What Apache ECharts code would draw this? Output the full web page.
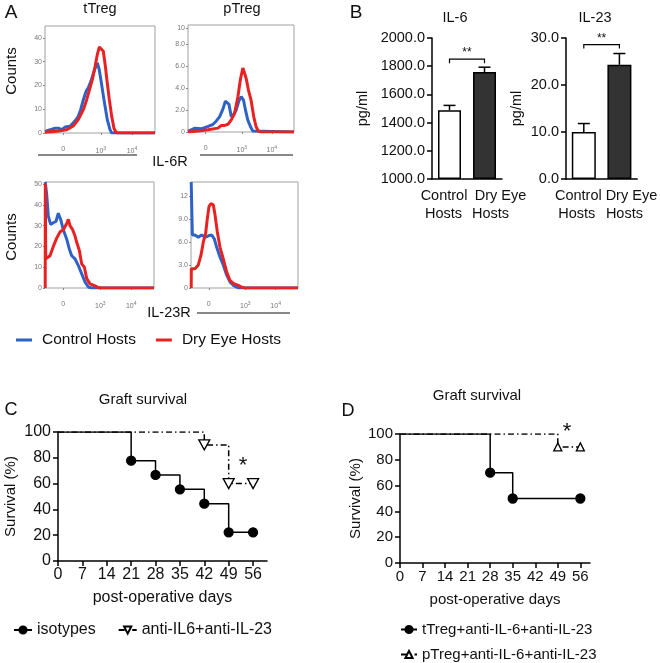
<!DOCTYPE html>
<html><head><meta charset="utf-8">
<script src="https://cdn.jsdelivr.net/npm/echarts@6/dist/echarts.min.js"></script>
<style>html,body{margin:0;padding:0;background:#fff}#c{width:660px;height:663px}</style>
</head><body><div id="c"></div>
<script>
// ---------- DATA ----------
// Flow histograms: x = display channel (0-1024, biexponential display), y = counts
const histXTicks = [170, 520, 810];
const histXTickLabels = ['0', '10{s|3}', '10{s|4}'];
const seriesNames = ['Control Hosts', 'Dry Eye Hosts'];

const il6rTregCtrl = [[0,0.7],[93,2],[124,2],[155,1.4],[186,2.5],[233,2.8],[279,5],[310,7],[332,9.8],[357,14],[382,17.5],[403,19],[428,21.8],[450,25],[472,28],[487,29.5],[503,27],[518,23],[537,17.5],[559,11.2],[580,5.6],[605,1.4],[621,0],[1024,0]];
const il6rTregDry  = [[0,0.3],[109,0.7],[202,1.4],[264,3],[310,5.6],[357,9.8],[388,14],[419,19],[444,23],[466,28],[487,33],[506,36.2],[524,36.8],[543,34.4],[562,28],[580,21],[599,14],[621,7],[642,2],[661,0.3],[680,0],[1024,0]];
const il6rPregCtrl = [[0,0.05],[67,0.35],[131,0.3],[195,0.5],[242,0.7],[274,1.0],[306,1.4],[338,2.1],[361,2.8],[380,2.9],[396,2.5],[418,1.4],[443,1.6],[466,2.0],[491,2.8],[514,3.2],[536,2.9],[555,2.0],[577,1.1],[603,0.5],[625,0.1],[641,0],[1024,0]];
const il6rPregDry  = [[0,0],[99,0.1],[195,0.2],[290,0.35],[322,0.6],[354,0.6],[386,0.7],[418,1.1],[450,1.7],[482,3.2],[507,4.8],[530,5.8],[545,5.7],[561,4.9],[584,3.8],[609,2.9],[635,1.4],[657,0.5],[679,0.1],[700,0],[1024,0]];
const il23rTregCtrl = [[2,51],[16,45],[31,34.6],[53,30.6],[78,31.4],[103,32],[125,36],[147,33],[172,28],[204,23.5],[229,18.7],[251,15.5],[282,14],[313,10.8],[345,6.8],[376,2.9],[407,0.5],[439,0],[1024,0]];
const il23rTregDry  = [[2,0],[3,50],[7,14],[47,15.5],[78,20],[110,24],[141,27],[172,28],[204,31],[219,33],[235,30],[260,28],[282,25],[298,22],[323,18],[345,11.5],[370,10],[392,4.5],[423,2],[470,1],[501,0.2],[530,0],[1024,0]];
const il23rPregCtrl = [[2,13.8],[13,6.9],[38,6.9],[70,6.6],[102,6.9],[134,6.6],[166,6.8],[198,6.9],[223,6.4],[246,5.3],[278,4.0],[309,3.0],[341,1.7],[373,0.8],[405,0.35],[453,0],[1024,0]];
const il23rPregDry  = [[2,0],[3,2.5],[13,2.3],[38,2.5],[70,3.0],[96,4.3],[118,6.0],[140,7.1],[156,9.0],[172,10.6],[191,11.0],[214,10.8],[230,9.5],[252,7.3],[278,5.3],[309,3.8],[341,2.1],[373,1.0],[405,0.6],[453,0.35],[485,0.1],[517,0],[1024,0]];

// Panel B: cytokines (pg/ml)
const hostCategories = ['Control Hosts', 'Dry Eye Hosts'];
const il6Mean = [1488, 1758];
const il6Sem  = [34, 35];
const il23Mean = [10.0, 24.3];
const il23Sem  = [1.8, 2.4];
const il6BracketLevel = 1850;
const il23BracketLevel = 28.6;

// Panels C & D: Kaplan-Meier graft survival (day, % surviving)
const dayTicks = [0, 7, 14, 21, 28, 35, 42, 49, 56];
const isotypesC = [[0,100],[21,77.8],[28,66.7],[35,55.6],[42,44.4],[49,22.2],[56,22.2]];
const antiC     = [[0,100],[42,90],[49,60],[56,60]];
const tTregD    = [[0,100],[28,70],[35,50],[56,50]];
const pTregD    = [[0,100],[49,90],[56,90]];

// ---------- CHART ----------
const FONT = 'Liberation Sans, Arial, Helvetica, sans-serif';
const BLUE = '#2f62c6', RED = '#e82222';
const chart = echarts.init(document.getElementById('c'), null, {renderer: 'canvas'});

const grids = [
  {left: 45, top: 26, width: 110, height: 107},
  {left: 188, top: 25, width: 106, height: 107},
  {left: 45, top: 182, width: 109, height: 106},
  {left: 191, top: 182, width: 107, height: 106},
  {left: 432, top: 38, width: 70, height: 141},
  {left: 566, top: 38, width: 72, height: 141},
  {left: 58, top: 432, width: 209, height: 129},
  {left: 400, top: 434, width: 190, height: 129}
].map((g, i) => Object.assign({containLabel: false}, g, i < 4 ? {show: true, borderColor: '#a0a0a0', borderWidth: 1} : {}));

function histX(gi) {
  return {
    type: 'value', gridIndex: gi, min: 0, max: 1024,
    splitLine: {show: false}, axisLine: {show: false},
    axisTick: {show: true, customValues: histXTicks, length: 2, lineStyle: {color: '#888'}},
    axisLabel: {
      customValues: histXTicks, margin: 13, fontSize: 7, color: '#777', fontFamily: FONT,
      formatter: v => histXTickLabels[histXTicks.indexOf(v)] ?? '',
      rich: {s: {fontSize: 5, color: '#777', verticalAlign: 'top', padding: [0, 0, 5, 0]}}
    }
  };
}
function histY(gi, max, ticks, labels) {
  return {
    type: 'value', gridIndex: gi, min: 0, max: max,
    splitLine: {show: false}, axisLine: {show: false},
    axisTick: {show: true, customValues: ticks, length: 2, lineStyle: {color: '#888'}},
    axisLabel: {customValues: ticks, margin: 3, fontSize: 7, color: '#777', fontFamily: FONT,
      formatter: v => labels[ticks.indexOf(v)] ?? ''}
  };
}
function barX(gi, rich) {
  return {
    type: 'category', gridIndex: gi, data: hostCategories,
    axisLine: {lineStyle: {color: '#000', width: 1.5}},
    axisTick: {alignWithLabel: true, length: 4, lineStyle: {color: '#000', width: 1.5}},
    axisLabel: {interval: 0, margin: 8, hideOverlap: false,
      formatter: (v, i) => i === 0 ? '{a|Control}\n{b|Hosts}' : '{c|Dry Eye}\n{d|Hosts}',
      rich: rich}
  };
}
function richFor(pa, pb, pc, pd) {
  const base = {fontSize: 14.5, fontFamily: FONT, color: '#111', lineHeight: 18};
  return {
    a: Object.assign({}, base, {padding: [0, pa, 0, 0]}),
    b: Object.assign({}, base, {padding: [0, pb, 0, 0]}),
    c: Object.assign({}, base, {padding: [0, 0, 0, pc]}),
    d: Object.assign({}, base, {padding: [0, 0, 0, pd]})
  };
}
function barY(gi, min, max, interval, gap) {
  return {
    type: 'value', gridIndex: gi, min, max, interval, startValue: min,
    name: 'pg/ml', nameLocation: 'middle', nameGap: gap,
    nameTextStyle: {fontSize: 14.5, fontFamily: FONT, color: '#111'},
    splitLine: {show: false},
    axisLine: {show: true, lineStyle: {color: '#000', width: 1.5}},
    axisTick: {show: true, length: 5, lineStyle: {color: '#000', width: 1.5}},
    axisLabel: {margin: 7, fontSize: 14.5, fontFamily: FONT, color: '#111', formatter: v => v.toFixed(1)}
  };
}
function survX(gi, max, fs, gap) {
  return {
    type: 'value', gridIndex: gi, min: 0, max,
    name: 'post-operative days', nameLocation: 'middle', nameGap: gap,
    nameTextStyle: {fontSize: fs, fontFamily: FONT, color: '#111'},
    splitLine: {show: false},
    axisLine: {lineStyle: {color: '#000', width: 1.5}},
    axisTick: {customValues: dayTicks, length: 5, lineStyle: {color: '#000', width: 1.5}},
    axisLabel: {customValues: dayTicks, margin: 6, fontSize: fs, fontFamily: FONT, color: '#111'}
  };
}
function survY(gi, fs, gap) {
  return {
    type: 'value', gridIndex: gi, min: 0, max: 100, interval: 20,
    name: 'Survival (%)', nameLocation: 'middle', nameGap: gap,
    nameTextStyle: {fontSize: 15, fontFamily: FONT, color: '#111'},
    splitLine: {show: false},
    axisLine: {show: true, lineStyle: {color: '#000', width: 1.5}},
    axisTick: {show: true, length: 5, lineStyle: {color: '#000', width: 1.5}},
    axisLabel: {margin: 7, fontSize: fs, fontFamily: FONT, color: '#111'}
  };
}

function histSeries(idx, data, name, color, z) {
  return {type: 'line', name, xAxisIndex: idx, yAxisIndex: idx, data, showSymbol: false, symbol: 'none',
    lineStyle: {color, width: 3}, itemStyle: {color}, z, silent: true, animation: false};
}
function errSeries(idx, mean, sem) {
  return {
    type: 'custom', xAxisIndex: idx, yAxisIndex: idx, z: 3, silent: true,
    data: mean.map((m, i) => [i, m, m + sem[i]]),
    renderItem(params, api) {
      const p0 = api.coord([api.value(0), api.value(1)]);
      const p1 = api.coord([api.value(0), api.value(2)]);
      const st = {stroke: '#000', lineWidth: 1.5};
      return {type: 'group', children: [
        {type: 'line', shape: {x1: p0[0], y1: p0[1], x2: p1[0], y2: p1[1]}, style: st},
        {type: 'line', shape: {x1: p1[0] - 6, y1: p1[1], x2: p1[0] + 6, y2: p1[1]}, style: st}
      ]};
    }
  };
}
function bracketSeries(idx, level) {
  return {
    type: 'custom', xAxisIndex: idx, yAxisIndex: idx, z: 3, silent: true,
    data: [[0, 1, level]],
    renderItem(params, api) {
      const a = api.coord([api.value(0), api.value(2)]);
      const b = api.coord([api.value(1), api.value(2)]);
      return {type: 'group', children: [
        {type: 'polyline', shape: {points: [[a[0], a[1] + 4], [a[0], a[1]], [b[0], a[1]], [b[0], a[1] + 4]]},
          style: {stroke: '#000', lineWidth: 1.2, fill: null}},
        {type: 'text', x: (a[0] + b[0]) / 2, y: a[1] - 6,
          style: {text: '**', fontSize: 12, fontFamily: FONT, fill: '#111', align: 'center', verticalAlign: 'middle'}}
      ]};
    }
  };
}
const triDown = 'path://M0,0L10,0L5,9Z';
const DASHDOT = [6, 3, 1.5, 3];
function kmSeries(idx, name, data, symbol, size, dash, fill) {
  return {
    type: 'line', name, xAxisIndex: idx, yAxisIndex: idx, step: 'end',
    data: data.map((p, i) => i === 0 ? {value: p, symbol: 'none'} : {value: p}),
    symbol, symbolSize: size, showAllSymbol: true,
    lineStyle: {color: '#000', width: 1.5, type: dash},
    itemStyle: {color: fill, borderColor: '#000', borderWidth: 1.3},
    z: dash === 'solid' ? 4 : 3, animation: false
  };
}

const legText = (fs) => ({fontSize: fs, fontFamily: FONT, color: '#111'});
const option = {
  animation: false,
  backgroundColor: '#fff',
  grid: grids,
  xAxis: [histX(0), histX(1), histX(2), histX(3),
    barX(4, richFor(11, 12, 32, 12)), barX(5, richFor(11, 14, 24, 10)),
    survX(6, 60, 16, 29), survX(7, 59, 15, 29)],
  yAxis: [
    histY(0, 45, [0, 10, 20, 30, 40], ['0', '10', '20', '30', '40']),
    histY(1, 9.7, [0, 2, 4, 6, 8, 9.4], ['0', '2.0', '4.0', '6.0', '8.0', '10']),
    histY(2, 51, [0, 10, 20, 30, 40, 50], ['0', '10', '20', '30', '40', '50']),
    histY(3, 13.8, [0, 3, 6, 9, 12], ['0', '3.0', '6.0', '9.0', '12']),
    barY(4, 1000, 2000, 200, 62), barY(5, 0, 30, 10, 42),
    survY(6, 16, 40), survY(7, 15, 37)],
  legend: [
    {data: seriesNames, left: 11, top: 327, itemWidth: 16, itemHeight: 3, icon: 'rect', itemGap: 20,
      textStyle: Object.assign(legText(15.5), {padding: [0, 0, 0, 5]}), selectedMode: false},
    {data: ['isotypes', 'anti-IL6+anti-IL-23'], left: 8, top: 617, itemWidth: 18, itemHeight: 9, itemGap: 22,
      textStyle: legText(16), selectedMode: false},
    {data: ['tTreg+anti-IL-6+anti-IL-23'], left: 395, top: 617, itemWidth: 16, itemHeight: 9,
      textStyle: legText(15), selectedMode: false},
    {data: ['pTreg+anti-IL-6+anti-IL-23'], left: 395, top: 642, itemWidth: 16, itemHeight: 9,
      textStyle: legText(15), selectedMode: false}
  ],
  series: [
    histSeries(0, il6rTregCtrl, seriesNames[0], BLUE, 2), histSeries(0, il6rTregDry, seriesNames[1], RED, 3),
    histSeries(1, il6rPregCtrl, seriesNames[0], BLUE, 2), histSeries(1, il6rPregDry, seriesNames[1], RED, 3),
    histSeries(2, il23rTregCtrl, seriesNames[0], BLUE, 2), histSeries(2, il23rTregDry, seriesNames[1], RED, 3),
    histSeries(3, il23rPregCtrl, seriesNames[0], BLUE, 2), histSeries(3, il23rPregDry, seriesNames[1], RED, 3),
    {type: 'bar', xAxisIndex: 4, yAxisIndex: 4, barWidth: 23,
      data: il6Mean.map((v, i) => ({value: v, itemStyle: {color: i ? '#333' : '#fff'}})),
      itemStyle: {borderColor: '#000', borderWidth: 1.5}, z: 2},
    {type: 'bar', xAxisIndex: 5, yAxisIndex: 5, barWidth: 24,
      data: il23Mean.map((v, i) => ({value: v, itemStyle: {color: i ? '#333' : '#fff'}})),
      itemStyle: {borderColor: '#000', borderWidth: 1.5}, z: 2},
    errSeries(4, il6Mean, il6Sem), errSeries(5, il23Mean, il23Sem),
    bracketSeries(4, il6BracketLevel), bracketSeries(5, il23BracketLevel),
    kmSeries(6, 'anti-IL6+anti-IL-23', antiC, triDown, [11, 10], DASHDOT, '#fff'),
    kmSeries(6, 'isotypes', isotypesC, 'circle', 9, 'solid', '#000'),
    kmSeries(7, 'pTreg+anti-IL-6+anti-IL-23', pTregD, 'triangle', 8, DASHDOT, '#fff'),
    kmSeries(7, 'tTreg+anti-IL-6+anti-IL-23', tTregD, 'circle', 9, 'solid', '#000')
  ]
};

// annotation texts / lines
const G = [];
function T(x, y, s, size, extra) {
  G.push(Object.assign({type: 'text', x, y, silent: true,
    style: {text: s, fontSize: size, fontFamily: FONT, fill: '#111', align: 'center', verticalAlign: 'middle'}}, extra || {}));
}
function L(x1, y1, x2, y2, w) {
  G.push({type: 'line', silent: true, shape: {x1, y1, x2, y2}, style: {stroke: '#111', lineWidth: w || 1}});
}
T(11, 13, 'A', 19);
T(100, 9, 'tTreg', 14.5);
T(242, 9, 'pTreg', 14.5);
T(12, 71, 'Counts', 15, {rotation: Math.PI / 2});
T(12, 237, 'Counts', 15, {rotation: Math.PI / 2});
L(38, 155, 137, 155); L(200, 155, 293, 155);
T(170, 162, 'IL-6R', 14.5);
T(169, 313, 'IL-23R', 14.5);
L(197, 313, 290, 313);
T(356, 13, 'B', 19);
T(455, 18, 'IL-6', 14.5);
T(595, 18, 'IL-23', 14.5);
T(11, 410, 'C', 18);
T(143, 400, 'Graft survival', 15);
T(348, 411, 'D', 18);
T(477, 396, 'Graft survival', 15);
T(243, 466, '*', 22);
T(567, 432, '*', 22);
option.graphic = G;

chart.setOption(option);
</script>
</body></html>
